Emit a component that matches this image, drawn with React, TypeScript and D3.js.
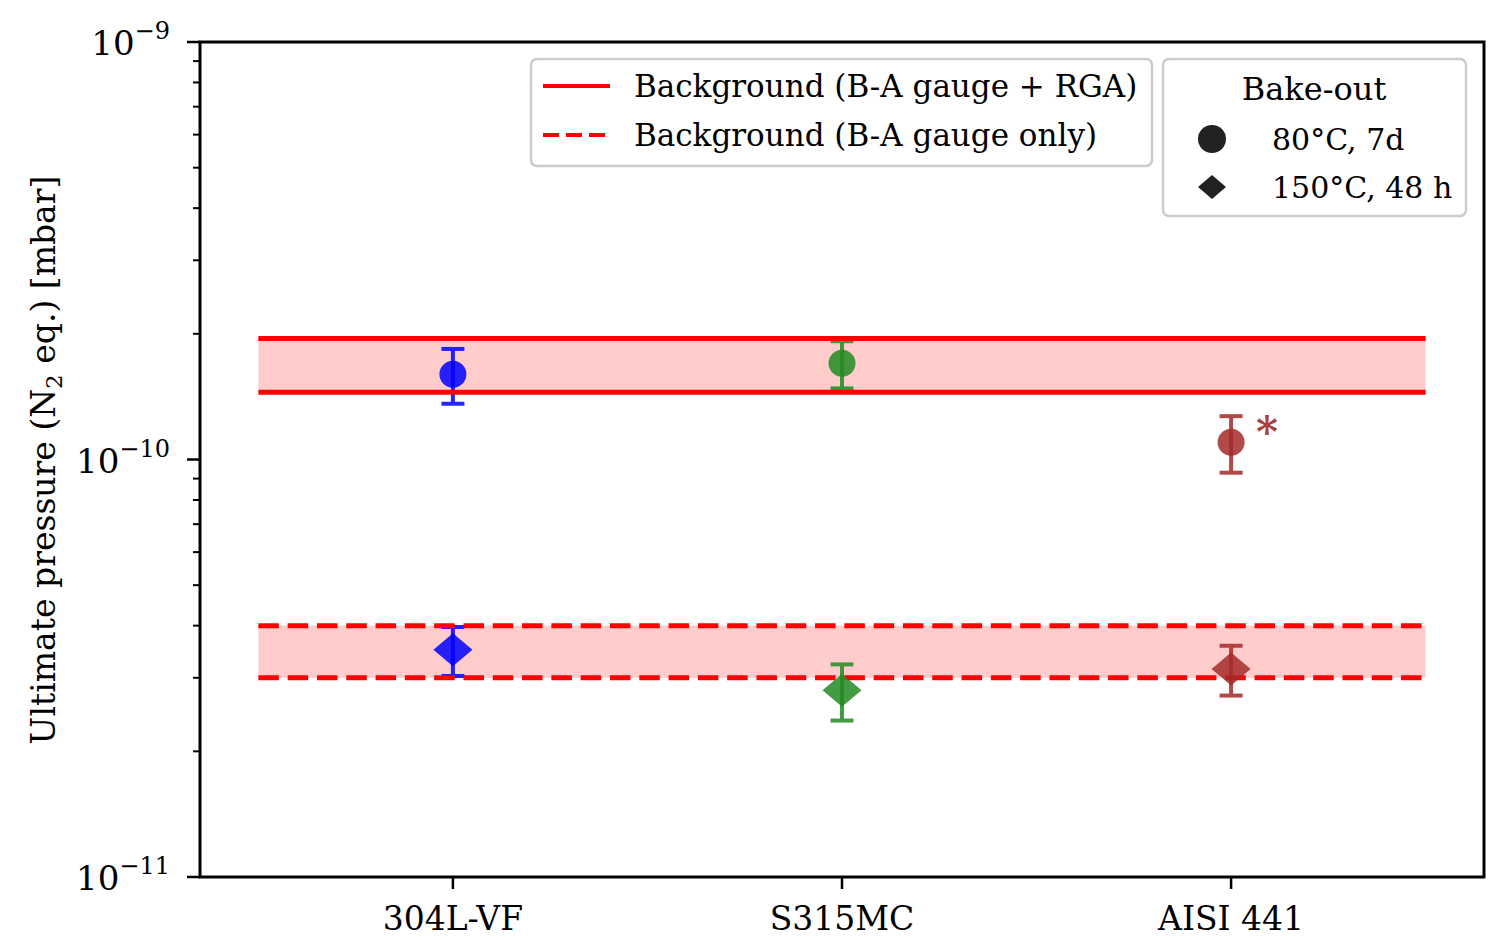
import React from "react";
import * as d3 from "d3";

// samples, one marker pair per category
const categories = ["304L-VF", "S315MC", "AISI 441"];
const sampleColors = ["blue", "forestgreen", "brown"];
const pressure80C = [1.6e-10, 1.7e-10, 1.1e-10];
const err80C = [0.24e-10, 0.22e-10, 0.17e-10];
const pressure150C = [3.5e-11, 2.8e-11, 3.15e-11];
const err150C = [0.47e-11, 0.43e-11, 0.43e-11];

// background bands [low, high]
const bandRGA = [1.45e-10, 1.95e-10];
const bandGaugeOnly = [3.0e-11, 4.0e-11];

const yMajorTicks = [1e-11, 1e-10, 1e-9];
const yTickExp = ["−11", "−10", "−9"];

const W = 1506, H = 940;
const m = { left: 200, right: 1484, top: 42, bottom: 877 };
const FONT = "DejaVu Serif";

const x = d3.scaleLinear().domain([-0.65, 2.65]).range([m.left, m.right]);
const y = d3.scaleLog().domain([1e-11, 1e-9]).range([m.bottom, m.top]);

function diamond(cx: number, cy: number, hw: number, hh: number) {
  const p = d3.path();
  p.moveTo(cx - hw, cy);
  p.lineTo(cx, cy - hh);
  p.lineTo(cx + hw, cy);
  p.lineTo(cx, cy + hh);
  p.closePath();
  return p.toString();
}

function ErrorBar({ i, v, e }: { i: number; v: number; e: number }) {
  const cx = x(i);
  const y0 = y(v - e), y1 = y(v + e);
  const col = sampleColors[i];
  return (
    <g stroke={col} strokeWidth={4} opacity={0.85}>
      <line x1={cx} x2={cx} y1={y0} y2={y1} />
      <line x1={cx - 11.5} x2={cx + 11.5} y1={y0} y2={y0} />
      <line x1={cx - 11.5} x2={cx + 11.5} y1={y1} y2={y1} />
    </g>
  );
}

function Band({ lo, hi }: { lo: number; hi: number }) {
  const x0 = x(-0.5), x1 = x(2.5);
  return (
    <rect x={x0} y={y(hi)} width={x1 - x0} height={y(lo) - y(hi)} fill="red" fillOpacity={0.2} />
  );
}

function BandLines({ lo, hi, dashed }: { lo: number; hi: number; dashed: boolean }) {
  const x0 = x(-0.5), x1 = x(2.5);
  return (
    <g stroke="red" strokeWidth={5} strokeDasharray={dashed ? "20.5 8.8" : undefined}>
      <line x1={x0} x2={x1} y1={y(hi)} y2={y(hi)} />
      <line x1={x0} x2={x1} y1={y(lo)} y2={y(lo)} />
    </g>
  );
}

export default function App() {
  const minorTicks: number[] = [];
  for (let d = -11; d < -9; d++) {
    for (let k = 2; k <= 9; k++) minorTicks.push(k * Math.pow(10, d));
  }

  return (
    <svg width={W} height={H} style={{ position: "absolute", left: 0, top: 0, background: "white" }}
      fontFamily={FONT}>
      {/* bands */}
      <Band lo={bandRGA[0]} hi={bandRGA[1]} />
      <Band lo={bandGaugeOnly[0]} hi={bandGaugeOnly[1]} />

      {/* error bars */}
      {categories.map((c, i) => (
        <g key={c}>
          <ErrorBar i={i} v={pressure80C[i]} e={err80C[i]} />
          <ErrorBar i={i} v={pressure150C[i]} e={err150C[i]} />
        </g>
      ))}

      <BandLines lo={bandRGA[0]} hi={bandRGA[1]} dashed={false} />
      <BandLines lo={bandGaugeOnly[0]} hi={bandGaugeOnly[1]} dashed={true} />

      {/* markers */}
      {categories.map((c, i) => (
        <g key={c} fill={sampleColors[i]} opacity={0.85}>
          <circle cx={x(i)} cy={y(pressure80C[i])} r={13.5} />
          <path d={diamond(x(i), y(pressure150C[i]), 19.5, 16.5)} />
        </g>
      ))}
      <text x={x(2) + 25} y={y(pressure80C[2]) + 5} fontSize={42} fill="brown" opacity={0.9}
        fontWeight="bold">*</text>

      {/* frame */}
      <rect x={m.left} y={m.top} width={m.right - m.left} height={m.bottom - m.top}
        fill="none" stroke="black" strokeWidth={3} />

      {/* y ticks */}
      {minorTicks.map((t) => (
        <line key={t} x1={m.left - 7} x2={m.left} y1={y(t)} y2={y(t)} stroke="black" strokeWidth={2} />
      ))}
      {yMajorTicks.map((t, i) => (
        <g key={t}>
          <line x1={m.left - 13} x2={m.left} y1={y(t)} y2={y(t)} stroke="black" strokeWidth={2.5} />
          <text x={170} y={y(t) + 13} textAnchor="end" fontSize={34}>
            10<tspan fontSize={24} dy={-16}>{yTickExp[i]}</tspan>
          </text>
        </g>
      ))}

      {/* x ticks */}
      {categories.map((c, i) => (
        <g key={c}>
          <line x1={x(i)} x2={x(i)} y1={m.bottom} y2={m.bottom + 12} stroke="black" strokeWidth={2.5} />
          <text x={x(i)} y={930} textAnchor="middle" fontSize={33}>{c}</text>
        </g>
      ))}

      {/* y label */}
      <text transform={`translate(55,460) rotate(-90)`} textAnchor="middle" fontSize={33}>
        Ultimate pressure (N<tspan fontSize={23} dy={7}>2</tspan><tspan dy={-7}> eq.) [mbar]</tspan>
      </text>

      {/* legend: backgrounds */}
      <g>
        <rect x={531} y={59} width={621} height={107} rx={6} fill="white" fillOpacity={0.8}
          stroke="#cccccc" strokeWidth={2.5} />
        <line x1={543} x2={610} y1={86} y2={86} stroke="red" strokeWidth={4} />
        <line x1={543} x2={610} y1={135} y2={135} stroke="red" strokeWidth={4} strokeDasharray="16 7" />
        <text x={634} y={97} fontSize={31}>Background (B-A gauge + RGA)</text>
        <text x={634} y={146} fontSize={31}>Background (B-A gauge only)</text>
      </g>

      {/* legend: bake-out */}
      <g>
        <rect x={1163} y={59} width={303} height={157} rx={6} fill="white" fillOpacity={0.8}
          stroke="#cccccc" strokeWidth={2.5} />
        <text x={1314} y={100} textAnchor="middle" fontSize={32}>Bake-out</text>
        <circle cx={1212} cy={139} r={14} fill="#222" />
        <path d={diamond(1212, 187, 14, 12)} fill="#222" />
        <text x={1272} y={150} fontSize={30}>80°C, 7d</text>
        <text x={1272} y={198} fontSize={30}>150°C, 48 h</text>
      </g>
    </svg>
  );
}
